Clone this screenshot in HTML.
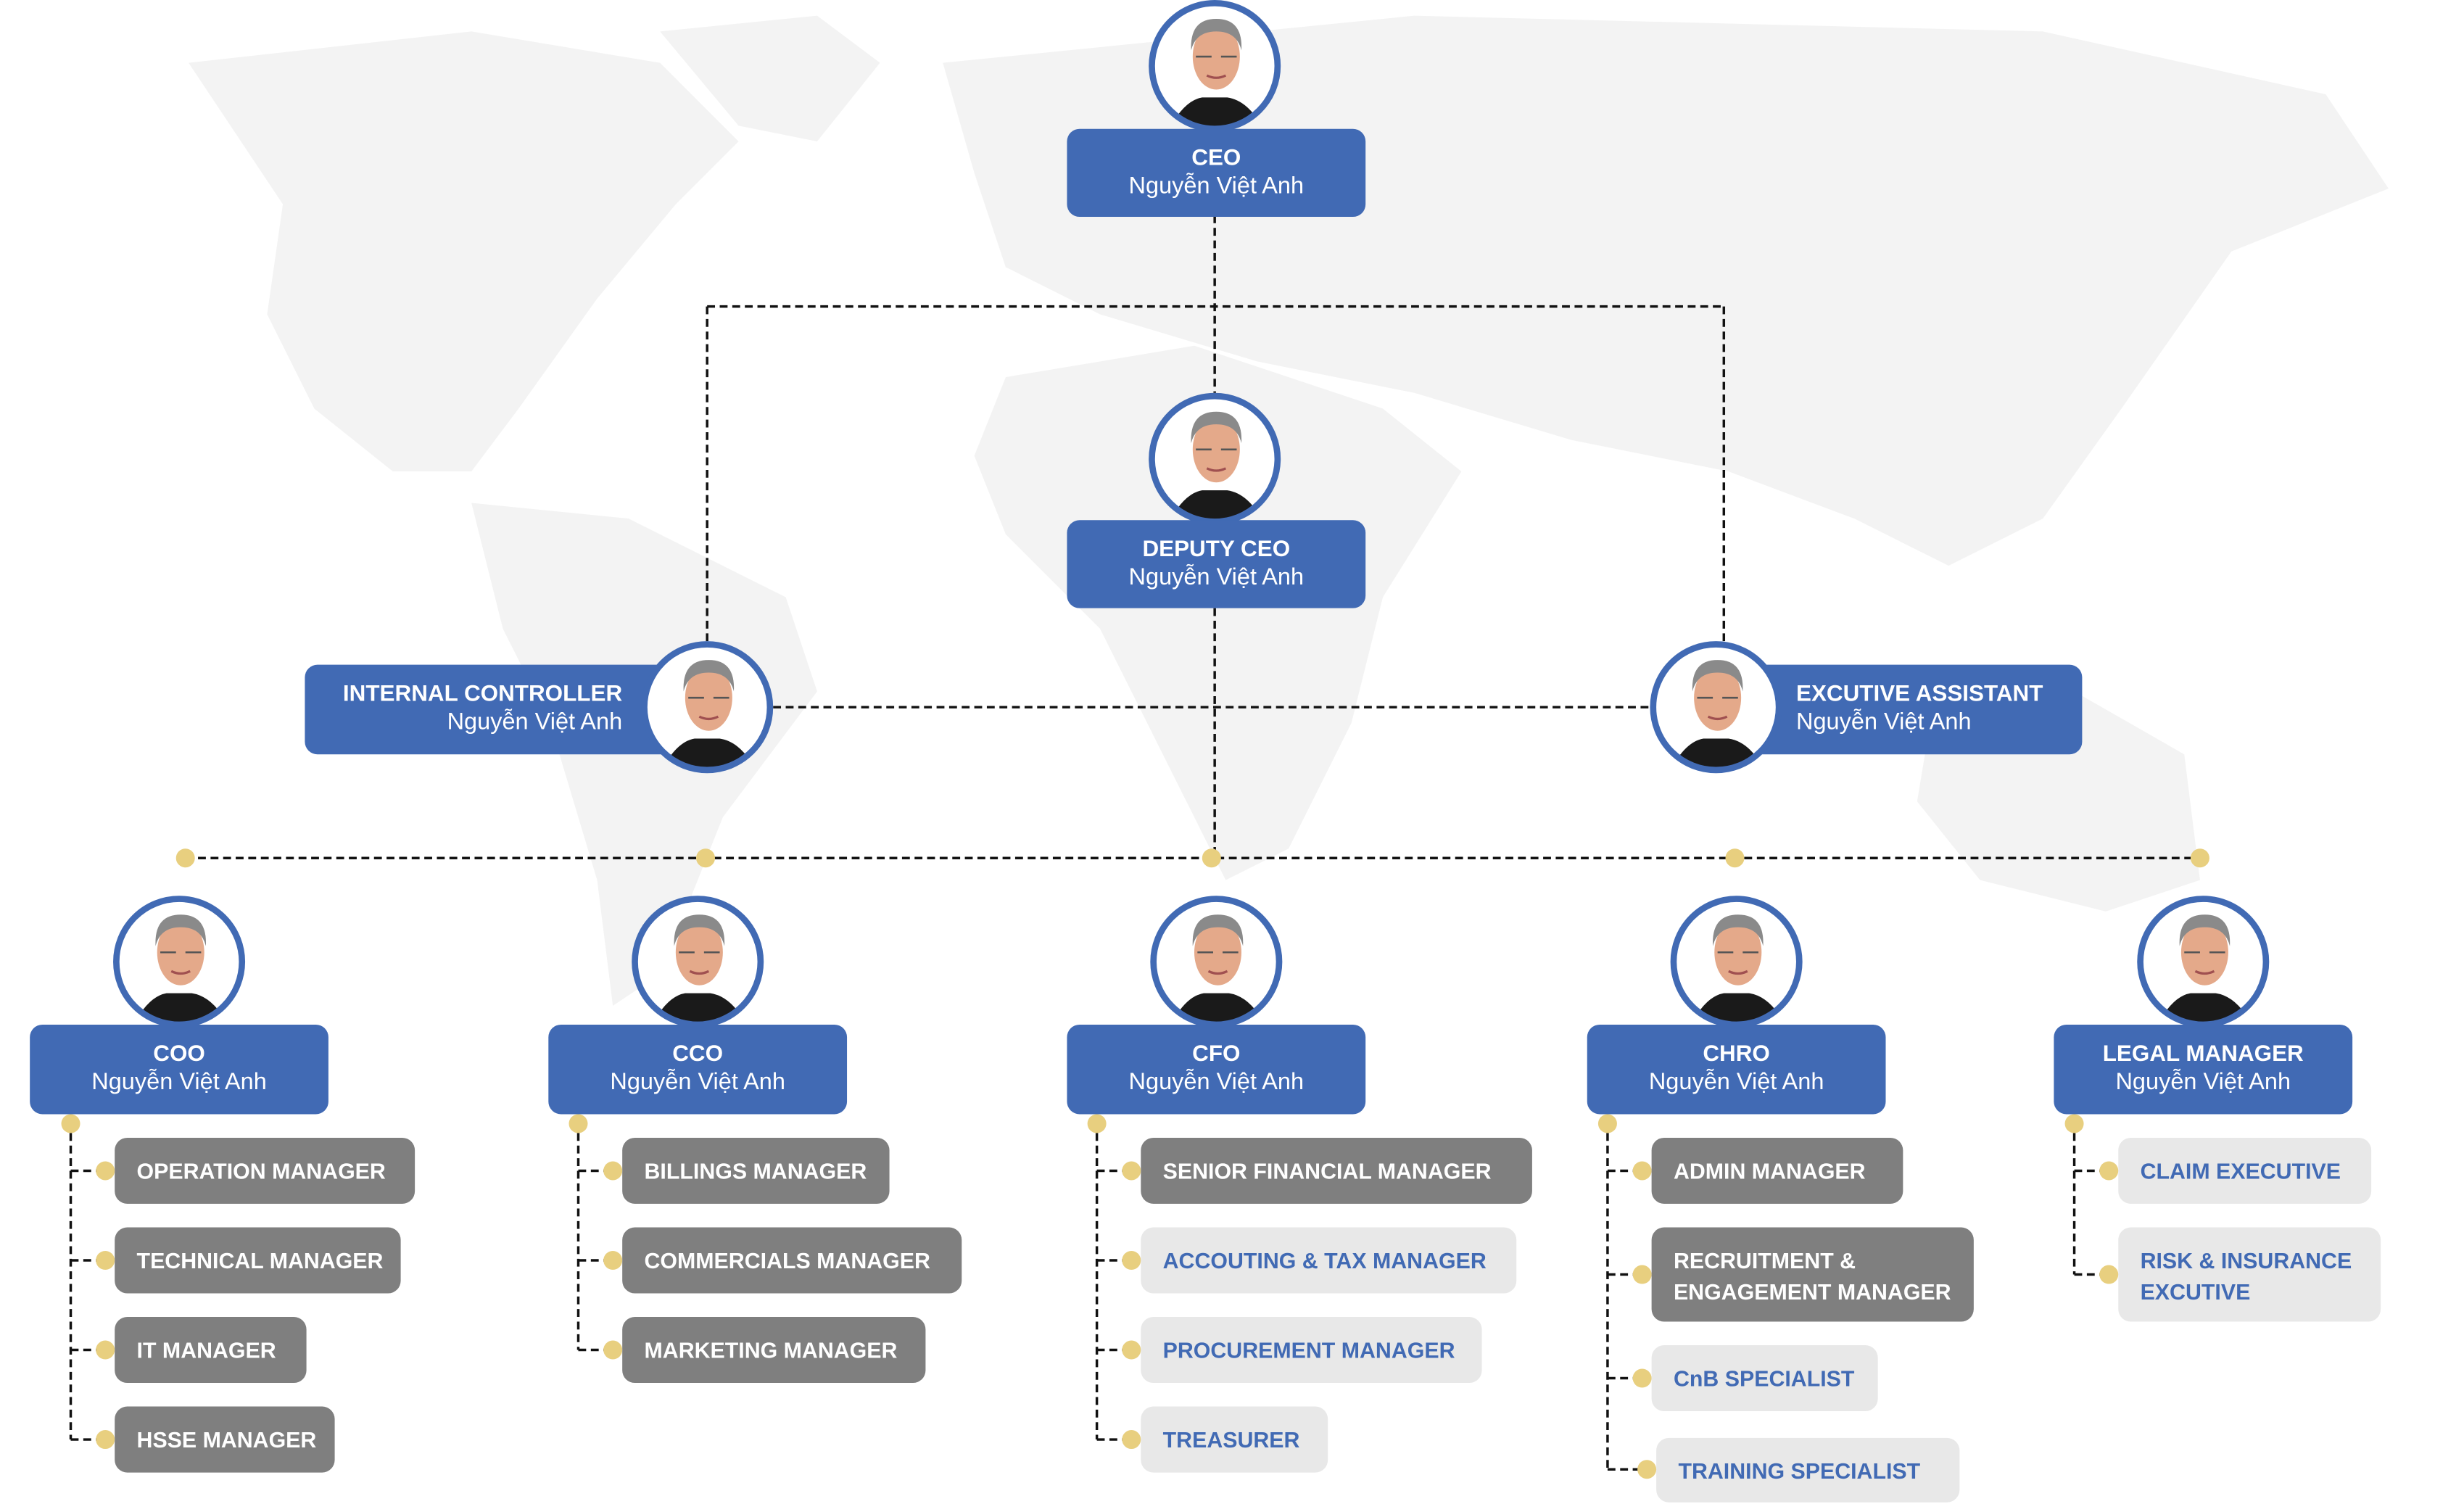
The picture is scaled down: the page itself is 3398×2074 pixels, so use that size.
<!DOCTYPE html>
<html><head><meta charset="utf-8">
<style>
html,body{margin:0;padding:0;background:#fff;overflow:hidden;}
#stage{position:absolute;left:0;top:0;width:1568px;height:957px;transform:scale(2.16709);transform-origin:0 0;font-family:"Liberation Sans","DejaVu Sans",sans-serif;}
.box{position:absolute;background:#416ab4;border-radius:8px;color:#fff;text-align:center;font-size:15px;line-height:18px;box-sizing:border-box;padding-top:10px;}
.box b{display:block;font-size:14.5px;}
.item{position:absolute;border-radius:8px;font-weight:bold;font-size:14px;line-height:20px;box-sizing:border-box;padding:11px 0 0 14px;height:42px;white-space:nowrap;}
.g{background:#7f7f7f;color:#fff;}
.l{background:#e8e8e8;color:#416ab4;}
.dot{position:absolute;width:12px;height:12px;border-radius:6px;background:#e8cf7f;}
</style></head><body>
<div id="stage">
<svg width="1568" height="957" style="position:absolute;left:0;top:0">
<g fill="#f3f3f3">
<path d="M120,40 L300,20 L420,40 L470,90 L430,130 L380,190 L330,260 L300,300 L250,300 L200,260 L170,200 L180,130 Z"/>
<path d="M420,20 L520,10 L560,40 L520,90 L470,80 Z"/>
<path d="M300,320 L400,330 L500,380 L520,440 L460,520 L420,620 L390,640 L380,560 L350,460 L320,400 Z"/>
<path d="M600,40 L900,10 L1300,20 L1480,60 L1520,120 L1420,160 L1350,260 L1300,330 L1240,360 L1180,330 L1100,300 L1000,280 L900,250 L800,230 L700,200 L640,170 L620,110 Z"/>
<path d="M640,240 L760,220 L880,260 L930,300 L880,380 L860,460 L820,540 L780,560 L740,480 L700,400 L640,340 L620,290 Z"/>
<path d="M1230,450 L1320,440 L1390,480 L1400,560 L1340,580 L1260,560 L1220,510 Z"/>
</g>
<g fill="none" stroke="#111" stroke-width="1.6" stroke-dasharray="5,3">
<line x1="773" y1="137" x2="773" y2="250"/>
<line x1="773" y1="387" x2="773" y2="546"/>
<line x1="450" y1="195" x2="1097" y2="195"/>
<line x1="450" y1="195" x2="450" y2="408"/>
<line x1="1097" y1="195" x2="1097" y2="408"/>
<line x1="492" y1="450" x2="1053" y2="450"/>
<line x1="118" y1="546" x2="1400" y2="546"/>
</g>
<g id="branchLines" fill="none" stroke="#111" stroke-width="1.6" stroke-dasharray="5,3"></g>
<defs>
<g id="face">
<circle r="40" fill="#fff"/>
<clipPath id="cp"><circle r="40"/></clipPath>
<g clip-path="url(#cp)">
<path d="M-30,42 Q-20,22 -8,20 L8,20 Q22,22 32,42 Z" fill="#1a1a1a"/>
<ellipse cx="1" cy="-6" rx="15" ry="21" fill="#e4a98a"/>
<path d="M-15,-10 Q-16,-30 1,-30 Q18,-30 17,-10 Q14,-22 1,-22 Q-12,-22 -15,-10 Z" fill="#8a8a8a"/>
<path d="M-12,-6 h10 M4,-6 h10" stroke="#555" stroke-width="1.2"/>
<path d="M-5,6 Q1,9 7,6" stroke="#a05050" stroke-width="1.5" fill="none"/>
</g>
<circle r="40" fill="none" stroke="#416ab4" stroke-width="4"/>
</g>
</defs>
<g id="avatars"></g>
</svg>
<div id="nodes"></div>
<svg width="1568" height="957" style="position:absolute;left:0;top:0;pointer-events:none">
<g id="avatarsTop"></g>
</svg>
</div>
<script>
const stage=document.getElementById('nodes');
const svgNS='http://www.w3.org/2000/svg';
const avatars=document.getElementById('avatars');
const avatarsTop=document.getElementById('avatarsTop');
const bl=document.getElementById('branchLines');
function avatar(cx,cy,name,top){
  const u=document.createElementNS(svgNS,'use');
  u.setAttribute('href','#face');
  u.setAttribute('transform','translate('+cx+','+cy+')');
  
  
  (top?avatarsTop:avatars).appendChild(u);
}
function box(x,y,w,h,title,align,name){
  const d=document.createElement('div');
  d.className='box';
  d.style.left=x+'px';d.style.top=y+'px';d.style.width=w+'px';d.style.height=h+'px';
  if(align){d.style.textAlign=align.a;d.style.padding='10px '+align.pr+'px 0 '+align.pl+'px';}
  d.innerHTML='<b>'+title+'</b>Nguyễn Việt Anh';
  
  
  stage.appendChild(d);
}
function dot(cx,cy){
  const d=document.createElement('div');
  d.className='dot';
  d.style.left=(cx-6)+'px';d.style.top=(cy-6)+'px';
  
  
  stage.appendChild(d);
}
avatar(773,42,'ceo-photo');
box(679,82,190,56,'CEO',null,'ceo-box');
avatar(773,292,'deputy-ceo-photo');
box(679,331,190,56,'DEPUTY CEO',null,'deputy-ceo-box');
box(194,423,280,57,'INTERNAL CONTROLLER',{a:'right',pr:78,pl:0},'internal-controller-box');
avatar(450,450,'internal-controller-photo',true);
box(1095,423,230,57,'EXCUTIVE ASSISTANT',{a:'left',pr:0,pl:48},'executive-assistant-box');
avatar(1092,450,'executive-assistant-photo',true);
[118,449,771,1104,1400].forEach(x=>dot(x,546));
const heads=[
 {x:19,t:'COO',line:45,items:[['OPERATION MANAGER','g',191,745],['TECHNICAL MANAGER','g',182,802],['IT MANAGER','g',122,859],['HSSE MANAGER','g',140,916]]},
 {x:349,t:'CCO',line:368,items:[['BILLINGS MANAGER','g',170,745],['COMMERCIALS MANAGER','g',216,802],['MARKETING MANAGER','g',193,859]]},
 {x:679,t:'CFO',line:698,items:[['SENIOR FINANCIAL MANAGER','g',249,745],['ACCOUTING &amp; TAX MANAGER','l',239,802],['PROCUREMENT MANAGER','l',217,859],['TREASURER','l',119,916]]},
 {x:1010,t:'CHRO',line:1023,items:[['ADMIN MANAGER','g',160,745],['RECRUITMENT &amp;<br>ENGAGEMENT MANAGER','g',205,811,60],['CnB SPECIALIST','l',144,877],['TRAINING SPECIALIST','l',193,935,41,3]]},
 {x:1307,t:'LEGAL MANAGER',line:1320,items:[['CLAIM EXECUTIVE','l',161,745],['RISK &amp; INSURANCE<br>EXCUTIVE','l',167,811,60]]}
];
heads.forEach(h=>{
  const cx=h.x+95;
  avatar(cx,612,h.t.toLowerCase().replace(/ /g,'-')+'-photo');
  box(h.x,652,190,57,h.t,null,h.t.toLowerCase().replace(/ /g,'-')+'-box');
  dot(h.line,715);
  const last=h.items[h.items.length-1][3];
  const v=document.createElementNS(svgNS,'line');
  v.setAttribute('x1',h.line);v.setAttribute('x2',h.line);v.setAttribute('y1',721);v.setAttribute('y2',last);
  bl.appendChild(v);
  h.items.forEach(it=>{
    const ix=h.line+28+(it[5]||0);
    const ht=it[4]||42;
    const e=document.createElement('div');
    e.className='item '+it[1];
    e.style.left=ix+'px';e.style.top=(it[3]-ht/2)+'px';e.style.width=it[2]+'px';e.style.height=ht+'px';
    e.innerHTML=it[0];
    
    
    stage.appendChild(e);
    const hl=document.createElementNS(svgNS,'line');
    hl.setAttribute('x1',h.line);hl.setAttribute('x2',ix-6);hl.setAttribute('y1',it[3]);hl.setAttribute('y2',it[3]);
    bl.appendChild(hl);
    dot(ix-6,it[3]);
  });
});
</script>
</body></html>
